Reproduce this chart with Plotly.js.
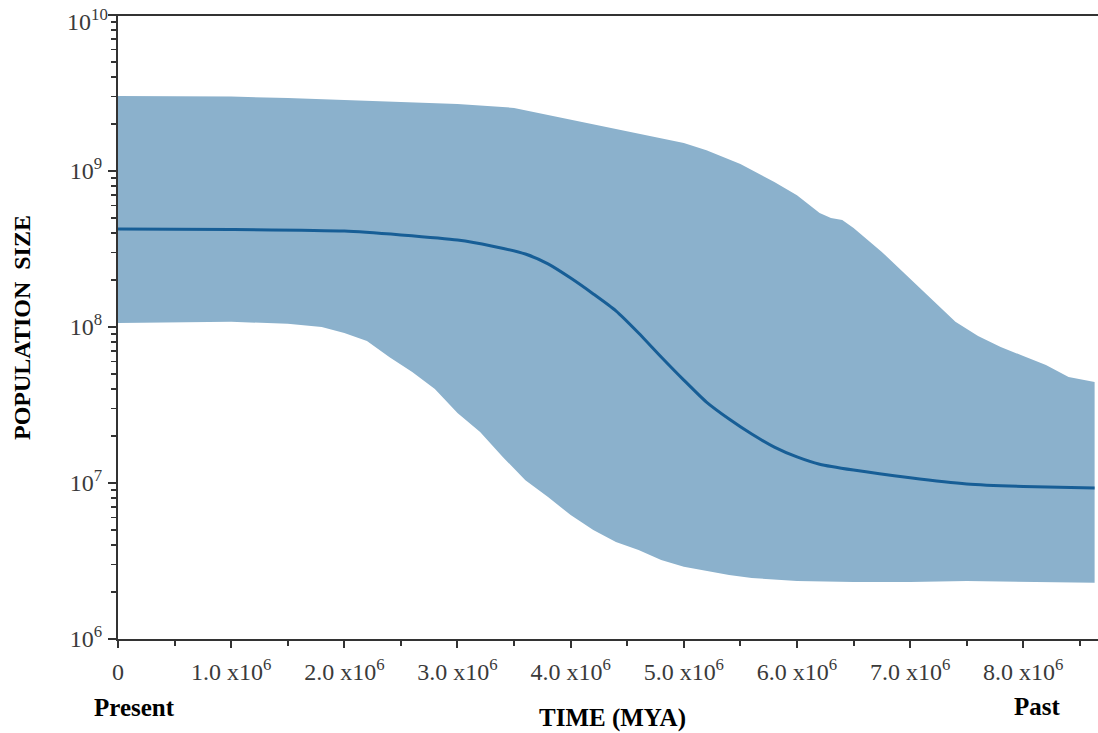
<!DOCTYPE html>
<html>
<head>
<meta charset="utf-8">
<script src="https://cdn.plot.ly/plotly-3.0.1.min.js"></script>
<style>html,body{margin:0;padding:0;background:#fff;}#chart{width:1098px;height:733px;}</style>
</head>
<body>
<div id="chart"></div>
<script>
// Upper bound of the band (time in years, population size)
const upperTime = [0, 0.5e6, 1.0e6, 1.5e6, 2.0e6, 2.5e6, 3.0e6, 3.5e6, 3.8e6, 4.0e6, 4.5e6, 5.0e6, 5.2e6, 5.5e6, 5.8e6, 6.0e6, 6.2e6, 6.3e6, 6.4e6, 6.5e6, 6.75e6, 7.0e6, 7.25e6, 7.4e6, 7.6e6, 7.8e6, 8.0e6, 8.2e6, 8.4e6, 8.63e6];
const upperValues = [3.03e9, 3.03e9, 3.0e9, 2.94e9, 2.85e9, 2.77e9, 2.69e9, 2.54e9, 2.29e9, 2.12e9, 1.80e9, 1.51e9, 1.36e9, 1.11e9, 8.5e8, 7.0e8, 5.38e8, 5.0e8, 4.85e8, 4.31e8, 3.03e8, 2.03e8, 1.37e8, 1.08e8, 8.75e7, 7.45e7, 6.52e7, 5.70e7, 4.78e7, 4.44e7];

// Median
const medianTime = [0, 1.0e6, 2.0e6, 2.5e6, 3.0e6, 3.3e6, 3.6e6, 3.8e6, 4.0e6, 4.2e6, 4.4e6, 4.6e6, 4.8e6, 5.0e6, 5.2e6, 5.4e6, 5.6e6, 5.8e6, 6.0e6, 6.2e6, 6.5e6, 7.0e6, 7.5e6, 8.0e6, 8.63e6];
const medianValues = [4.25e8, 4.22e8, 4.12e8, 3.89e8, 3.61e8, 3.31e8, 2.94e8, 2.54e8, 2.06e8, 1.63e8, 1.27e8, 9.16e7, 6.43e7, 4.57e7, 3.30e7, 2.57e7, 2.06e7, 1.70e7, 1.47e7, 1.32e7, 1.21e7, 1.08e7, 9.86e6, 9.5e6, 9.29e6];

// Lower bound of the band
const lowerTime = [0, 1.0e6, 1.5e6, 1.8e6, 2.0e6, 2.2e6, 2.4e6, 2.6e6, 2.8e6, 3.0e6, 3.2e6, 3.4e6, 3.6e6, 3.8e6, 4.0e6, 4.2e6, 4.4e6, 4.6e6, 4.8e6, 5.0e6, 5.2e6, 5.4e6, 5.6e6, 6.0e6, 6.5e6, 7.0e6, 7.5e6, 8.0e6, 8.63e6];
const lowerValues = [1.06e8, 1.08e8, 1.05e8, 1.0e8, 9.16e7, 8.13e7, 6.4e7, 5.15e7, 4.01e7, 2.81e7, 2.12e7, 1.47e7, 1.04e7, 8.13e6, 6.23e6, 5.0e6, 4.19e6, 3.72e6, 3.21e6, 2.90e6, 2.73e6, 2.57e6, 2.46e6, 2.35e6, 2.32e6, 2.32e6, 2.35e6, 2.32e6, 2.29e6];

// Axis ticks
const xTickVals = [0, 1e6, 2e6, 3e6, 4e6, 5e6, 6e6, 7e6, 8e6];
const xTickText = ["0", "1.0 x10<sup>6</sup>", "2.0 x10<sup>6</sup>", "3.0 x10<sup>6</sup>", "4.0 x10<sup>6</sup>", "5.0 x10<sup>6</sup>", "6.0 x10<sup>6</sup>", "7.0 x10<sup>6</sup>", "8.0 x10<sup>6</sup>"];
const yTickVals = [1e6, 1e7, 1e8, 1e9, 1e10];
const yTickText = ["10<sup>6</sup>", "10<sup>7</sup>", "10<sup>8</sup>", "10<sup>9</sup>", "10<sup>10</sup>"];

const bandX = upperTime.concat(lowerTime.slice().reverse());
const bandY = upperValues.concat(lowerValues.slice().reverse());

const serif = "Liberation Serif, Times New Roman, serif";

// The top label sits at the very edge of the page; it is drawn as an annotation
// at the same tick so it can be nudged down to stay inside the page.
const lastIdx = yTickVals.length - 1;
const axisTickText = yTickText.map((t, i) => i === lastIdx ? '' : t);

const traces = [
  {
    x: bandX, y: bandY, type: 'scatter', mode: 'lines',
    fill: 'toself', fillcolor: '#8bb1cc',
    line: {width: 0, color: '#8bb1cc'}, hoverinfo: 'skip', showlegend: false
  },
  {
    x: medianTime, y: medianValues, type: 'scatter', mode: 'lines',
    line: {color: '#175e96', width: 3, shape: 'spline', smoothing: 0.6},
    showlegend: false
  }
];

const layout = {
  width: 1098, height: 733,
  margin: {l: 118, r: 0, t: 15, b: 94},
  paper_bgcolor: '#ffffff', plot_bgcolor: '#ffffff',
  showlegend: false,
  font: {family: serif, color: '#333333'},
  xaxis: {
    range: [0, 8.66e6], showgrid: false, zeroline: false,
    showline: true, linecolor: '#333333', linewidth: 2,
    tickmode: 'array', tickvals: xTickVals, ticktext: xTickText,
    ticks: 'outside', ticklen: 7, tickwidth: 2, tickcolor: '#333333',
    tickfont: {family: serif, size: 24, color: '#3a3a3a'},
    ticklabelstandoff: 3, ticklabeloverflow: 'allow',
    minor: {tickmode: 'linear', tick0: 0, dtick: 0.5e6, ticks: 'outside', ticklen: 5, tickwidth: 2, tickcolor: '#333333', showgrid: false}
  },
  yaxis: {
    type: 'log', range: [6, 10.0003], showgrid: false, zeroline: false,
    showline: true, linecolor: '#333333', linewidth: 2,
    tickmode: 'array', tickvals: yTickVals, ticktext: axisTickText,
    ticks: 'outside', ticklen: 8, tickwidth: 2, tickcolor: '#333333',
    tickfont: {family: serif, size: 24, color: '#3a3a3a'},
    ticklabelstandoff: 1, ticklabeloverflow: 'allow',
    minor: {tickmode: 'linear', dtick: 'D1', ticks: 'outside', ticklen: 5, tickwidth: 1.5, tickcolor: '#333333', showgrid: false}
  },
  shapes: [
    {type: 'line', xref: 'paper', yref: 'paper', x0: -0.007, x1: 1, y0: 1, y1: 1, line: {color: '#333333', width: 2}}
  ],
  annotations: [
    {text: yTickText[lastIdx], xref: 'paper', yref: 'y', x: 0, y: Math.log10(yTickVals[lastIdx]), xanchor: 'right', yanchor: 'middle', xshift: -8, yshift: -5, showarrow: false, font: {family: serif, size: 24, color: '#3a3a3a'}},
    {text: '<b>POPULATION\u00a0 SIZE</b>', xref: 'paper', yref: 'paper', x: -0.098, y: 0.5, xanchor: 'center', yanchor: 'middle', textangle: -90, showarrow: false, font: {family: serif, size: 24, color: '#000000'}},
    {text: '<b>TIME (MYA)</b>', xref: 'paper', yref: 'paper', x: (612 - 118) / 980, y: -(718 - 639) / 624, xanchor: 'center', yanchor: 'middle', showarrow: false, font: {family: serif, size: 25, color: '#000000'}},
    {text: '<b>Present</b>', xref: 'paper', yref: 'paper', x: (134 - 118) / 980, y: -(707 - 639) / 624, xanchor: 'center', yanchor: 'middle', showarrow: false, font: {family: serif, size: 25, color: '#000000'}},
    {text: '<b>Past</b>', xref: 'paper', yref: 'paper', x: (1037 - 118) / 980, y: -(706 - 639) / 624, xanchor: 'center', yanchor: 'middle', showarrow: false, font: {family: serif, size: 25, color: '#000000'}}
  ]
};

Plotly.newPlot('chart', traces, layout, {displayModeBar: false, staticPlot: true});
</script>
</body>
</html>
